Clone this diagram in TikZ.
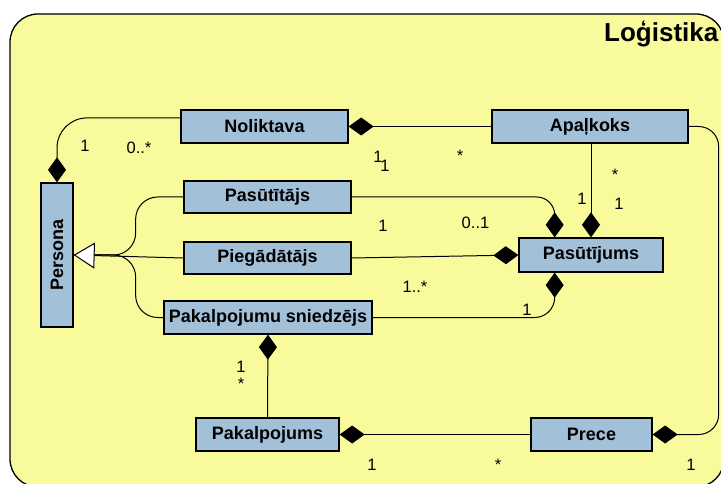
\documentclass[tikz,border=0pt]{standalone}
\usepackage{fontspec}
\usepackage{graphicx}
\setmainfont{Liberation Sans}
\usetikzlibrary{arrows.meta,calc}
\definecolor{panelyellow}{RGB}{248,250,155}
\definecolor{classblue}{RGB}{163,192,217}
\tikzset{
  compo/.tip={Diamond[length=25pt,width=18pt]},
  gen/.tip={Triangle[open,fill=white,length=21pt,width=26pt]},
}
\begin{document}
\begin{tikzpicture}[x=1pt,y=-1pt,
  cls/.style={draw=black, line width=1.3pt, fill=classblue, rectangle, inner sep=0pt,
              font=\fontsize{18}{20}\selectfont\bfseries},
  mult/.style={anchor=base, inner sep=0pt, font=\fontsize{16.5}{18}\selectfont},
  link/.style={draw=black, line width=1pt},
]
\useasboundingbox (0,0) rectangle (721,484);
\clip (0,0) rectangle (721,484);

% package frame
\draw[line width=1.3pt, fill=panelyellow, rounded corners=28pt] (10,14) rectangle (724,487);
\node[anchor=base west, inner sep=0pt, font=\fontsize{26}{28}\selectfont\bfseries] (title) at (604,42) {Loģistika};

% classes
\node[cls, minimum width=167pt, minimum height=33pt] (noliktava)   at (264.5,126.5) {Noliktava};
\node[cls, minimum width=196pt, minimum height=33pt] (apalkoks)    at (590,126.5)   {Apaļkoks};
\node[cls, minimum width=32pt,  minimum height=144pt] (persona)    at (57,255)      {\rotatebox{90}{Persona}};
\node[cls, minimum width=167pt, minimum height=32pt] (pasutitajs)  at (267.5,197)   {Pasūtītājs};
\node[cls, minimum width=167pt, minimum height=32pt] (piegadatajs) at (267.5,258)   {Piegādātājs};
\node[cls, minimum width=208pt, minimum height=33pt] (pakalpojumu) at (268,317.5)   {Pakalpojumu sniedzējs};
\node[cls, minimum width=144pt, minimum height=34pt] (pasutijums)  at (591,255)     {Pasūtījums};
\node[cls, minimum width=143pt, minimum height=33pt] (pakalpojums) at (267.5,434.5) {Pakalpojums};
\node[cls, minimum width=121pt, minimum height=33pt] (prece)       at (591.5,434.5) {Prece};

% compositions
\draw[link, -{compo}, rounded corners=30pt]
  ($(noliktava.north west)!0.25!(noliktava.south west)$) -| (persona.north);
\draw[link, {compo}-] (noliktava.east) -- (apalkoks.west);
\draw[link, -{compo}] (apalkoks.south -| pasutijums.north) -- (pasutijums.north);
\draw[link, -{compo}, rounded corners=20pt] (apalkoks.east) -- ++(30,0) |- (prece.east);
\draw[link, -{compo}, rounded corners=18pt]
  (pasutitajs.east) -| ($(pasutijums.north west)!0.25!(pasutijums.north east)$);
\draw[link, -{compo}] (piegadatajs.east) -- (pasutijums.west);
\draw[link, -{compo}, rounded corners=20pt]
  (pakalpojumu.east) -| ($(pasutijums.south west)!0.25!(pasutijums.south east)$);
\draw[link, {compo}-] (pakalpojumu.south) -- (pakalpojums.north);
\draw[link, {compo}-] (pakalpojums.east) -- (prece.west);

% generalization to Persona
\draw[link, rounded corners=22pt] (pasutitajs.west) -| ($(persona.east)+(62,0)$) -- (persona.east);
\draw[link, rounded corners=22pt] (pakalpojumu.west) -| ($(persona.east)+(62,0)$) -- (persona.east);
\draw[link, -{gen}] (piegadatajs.west) -- (persona.east);

% multiplicities
\node[mult] (m1)  at (85,152)    {1};
\node[mult] (m2)  at (139,154)   {0..*};
\node[mult] (m3)  at (378,163)   {1};
\node[mult] (m4)  at (385,172)   {1};
\node[mult] (m5)  at (460,162)   {*};
\node[mult] (m6)  at (383,232)   {1};
\node[mult] (m7)  at (475.5,229) {0..1};
\node[mult] (m8)  at (615,181)   {*};
\node[mult] (m9)  at (582,205)   {1};
\node[mult] (m10) at (619,210)   {1};
\node[mult] (m11) at (415,292)   {1..*};
\node[mult] (m12) at (527,315)   {1};
\node[mult] (m13) at (241,372)   {1};
\node[mult] (m14) at (241,389)   {*};
\node[mult] (m15) at (372,470)   {1};
\node[mult] (m16) at (498,470)   {*};
\node[mult] (m17) at (691,470)   {1};
\end{tikzpicture}
\end{document}
